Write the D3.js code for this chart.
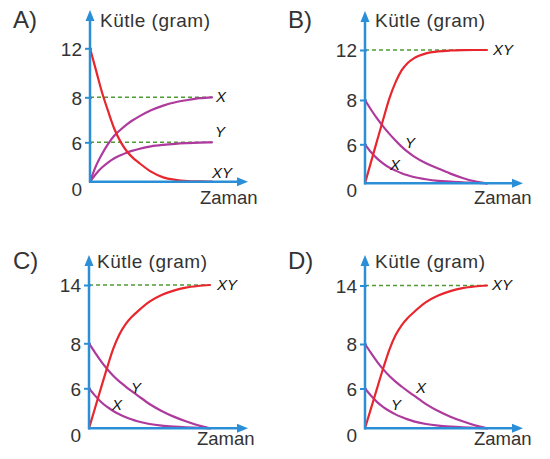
<!DOCTYPE html>
<html>
<head>
<meta charset="utf-8">
<script src="https://cdn.jsdelivr.net/npm/d3@7"></script>
<style>
  html, body { margin: 0; padding: 0; background: #ffffff; }
  svg { display: block; }
</style>
</head>
<body>
<svg id="chart" width="550" height="459"></svg>
<script>
// ---------------- DATA ----------------
const time = [0, 0.5, 1, 1.5, 2, 2.5, 3, 3.5, 4, 5, 6, 7, 8, 9, 10];
const panelNames = ["A)", "B)", "C)", "D)"];
const yAxisTitle = "Kütle (gram)";
const xAxisTitle = "Zaman";

const ticksA = [0, 6, 8, 12];
const ticksB = [0, 6, 8, 12];
const ticksC = [0, 6, 8, 14];
const ticksD = [0, 6, 8, 14];

const guidesA = [8, 6];
const guidesB = [12];
const guidesC = [14];
const guidesD = [14];

// Panel A
const aXY = [12, 10.18, 8.35, 7.36, 6.59, 6.03, 4.68, 3.66, 2.90, 1.53, 0.66, 0.28, 0.1, 0.04, 0];
const aX  = [0, 2.44, 4.27, 5.80, 6.30, 6.56, 6.79, 6.98, 7.14, 7.42, 7.63, 7.78, 7.88, 7.96, 8];
const aY  = [0, 1.22, 2.19, 2.95, 3.56, 4.02, 4.42, 4.73, 4.98, 5.39, 5.62, 5.77, 5.87, 5.95, 6];
// Panel B
const bXY = [0, 3.33, 6.18, 7.14, 8.13, 9.41, 10.37, 10.96, 11.33, 11.73, 11.89, 11.96, 11.99, 12, 12];
const bX  = [6, 4.77, 3.79, 3.03, 2.41, 1.95, 1.54, 1.23, 0.97, 0.62, 0.38, 0.26, 0.15, 0.08, 0];
const bY  = [8, 7.56, 7.16, 6.80, 6.47, 6.17, 5.64, 4.82, 4.15, 3.08, 2.26, 1.49, 0.82, 0.31, 0];
// Panel C
const cXY = [0, 3.05, 6.03, 6.92, 7.75, 8.89, 9.92, 10.67, 11.26, 12.29, 12.97, 13.42, 13.73, 13.9, 14];
const cX  = [6, 4.9, 3.95, 3.2, 2.6, 2.1, 1.7, 1.35, 1.05, 0.65, 0.4, 0.25, 0.15, 0.08, 0];
const cY  = [8, 7.59, 7.2, 6.86, 6.56, 6.31, 6.09, 5.6, 4.95, 3.65, 2.6, 1.75, 1.05, 0.45, 0];
// Panel D
const dXY = [0, 3.05, 6.03, 6.92, 7.75, 8.89, 9.92, 10.67, 11.26, 12.29, 12.97, 13.42, 13.73, 13.9, 14];
const dX  = [8, 7.59, 7.2, 6.86, 6.56, 6.31, 6.09, 5.6, 4.95, 3.65, 2.6, 1.75, 1.05, 0.45, 0];
const dY  = [6, 4.9, 3.95, 3.2, 2.6, 2.1, 1.7, 1.35, 1.05, 0.65, 0.4, 0.25, 0.15, 0.08, 0];

// ---------------- STYLE / LAYOUT ----------------
const COL_AXIS = "#2a8fd6";
const COL_RED = "#e8262e";
const COL_PURPLE = "#ad3a9c";
const COL_GREEN = "#4f9a35";
const COL_TEXT = "#333333";
const FONT = "'Liberation Sans', Arial, Helvetica, sans-serif";

const panels = [
  { name: panelNames[0], ticks: ticksA, guides: guidesA,
    series: [{v: aX, c: COL_PURPLE}, {v: aY, c: COL_PURPLE}, {v: aXY, c: COL_RED}],
    ax: 90, top: 10, axisEnd: 248, curveEnd: 212, yRange: [181.7, 142.3, 97.3, 48.3],
    title: [13, 28], ytitle: [100, 27], xtitle: [200, 204],
    labels: [["X", 216, 102], ["Y", 215, 137], ["XY", 212, 178]] },
  { name: panelNames[1], ticks: ticksB, guides: guidesB,
    series: [{v: bX, c: COL_PURPLE}, {v: bY, c: COL_PURPLE}, {v: bXY, c: COL_RED}],
    ax: 365, top: 11, axisEnd: 523, curveEnd: 487, yRange: [183.3, 144.3, 100, 50],
    title: [288, 28], ytitle: [375, 27], xtitle: [474, 204],
    labels: [["XY", 493, 55], ["Y", 405, 148], ["X", 390, 170]] },
  { name: panelNames[2], ticks: ticksC, guides: guidesC,
    series: [{v: cX, c: COL_PURPLE}, {v: cY, c: COL_PURPLE}, {v: cXY, c: COL_RED}],
    ax: 89, top: 255, axisEnd: 248, curveEnd: 210, yRange: [428.3, 388.3, 343.3, 285],
    title: [13, 269], ytitle: [97, 268], xtitle: [197, 445],
    labels: [["XY", 217, 290], ["Y", 131, 393], ["X", 112, 410]] },
  { name: panelNames[3], ticks: ticksD, guides: guidesD,
    series: [{v: dX, c: COL_PURPLE}, {v: dY, c: COL_PURPLE}, {v: dXY, c: COL_RED}],
    ax: 365, top: 255, axisEnd: 523, curveEnd: 487, yRange: [428.3, 388.5, 344, 285.5],
    title: [288, 269], ytitle: [375, 268], xtitle: [474, 445],
    labels: [["XY", 492, 290], ["X", 416, 393], ["Y", 391, 410]] }
];

const svg = d3.select("#chart");

panels.forEach(p => {
  const g = svg.append("g");
  const base = p.yRange[0];
  const x = d3.scaleLinear().domain([time[0], time[time.length - 1]]).range([p.ax, p.curveEnd]);
  const y = d3.scaleLinear().domain(p.ticks).range(p.yRange);

  // guides (dashed)
  g.selectAll("line.guide").data(p.guides).join("line")
    .attr("x1", p.ax).attr("x2", p.curveEnd)
    .attr("y1", d => y(d)).attr("y2", d => y(d))
    .attr("stroke", COL_GREEN).attr("stroke-width", 1.6)
    .attr("stroke-dasharray", "4,3");

  // y axis ticks & labels via d3.axisLeft
  const yAxis = d3.axisLeft(y).tickValues(p.ticks).tickSize(5).tickPadding(3)
    .tickFormat(d3.format("d"));
  const ya = g.append("g").attr("transform", `translate(${p.ax},0)`).call(yAxis);
  ya.select(".domain").remove();
  ya.selectAll(".tick line").attr("stroke", COL_AXIS).attr("stroke-width", 2)
    .attr("x2", -5).attr("x1", 2)
    .filter(d => d === 0).remove();
  ya.selectAll(".tick text")
    .attr("fill", COL_TEXT).attr("font-family", FONT).attr("font-size", 19)
    .attr("dy", d => d === 0 ? "0.7em" : "0.36em");

  // curves
  const line = d3.line().x((d, i) => x(time[i])).y(d => y(d)).curve(d3.curveMonotoneX);
  p.series.forEach(s => {
    g.append("path").datum(s.v).attr("d", line)
      .attr("fill", "none").attr("stroke", s.c).attr("stroke-width", 2.2)
      .attr("stroke-linecap", "round");
  });

  // axes lines with arrows
  g.append("line").attr("x1", p.ax).attr("x2", p.ax).attr("y1", base + 1).attr("y2", p.top + 8)
    .attr("stroke", COL_AXIS).attr("stroke-width", 2.5);
  g.append("path")
    .attr("d", `M${p.ax},${p.top} L${p.ax - 4.5},${p.top + 11} L${p.ax + 4.5},${p.top + 11} Z`)
    .attr("fill", COL_AXIS);
  g.append("line").attr("x1", p.ax - 1).attr("x2", p.axisEnd - 8).attr("y1", base).attr("y2", base)
    .attr("stroke", COL_AXIS).attr("stroke-width", 2.5);
  g.append("path")
    .attr("d", `M${p.axisEnd},${base} L${p.axisEnd - 11},${base - 4.5} L${p.axisEnd - 11},${base + 4.5} Z`)
    .attr("fill", COL_AXIS);

  // texts
  g.append("text").attr("x", p.title[0]).attr("y", p.title[1]).text(p.name)
    .attr("font-family", FONT).attr("font-size", 24).attr("fill", COL_TEXT);
  g.append("text").attr("x", p.ytitle[0]).attr("y", p.ytitle[1]).text(yAxisTitle)
    .attr("font-family", FONT).attr("font-size", 19).attr("letter-spacing", 0.5).attr("fill", COL_TEXT);
  g.append("text").attr("x", p.xtitle[0]).attr("y", p.xtitle[1]).text(xAxisTitle)
    .attr("font-family", FONT).attr("font-size", 18.5).attr("fill", COL_TEXT);
  p.labels.forEach(l => {
    g.append("text").attr("x", l[1]).attr("y", l[2]).text(l[0])
      .attr("font-family", FONT).attr("font-size", 15).attr("font-style", "italic")
      .attr("fill", "#111");
  });
});
</script>
</body>
</html>
